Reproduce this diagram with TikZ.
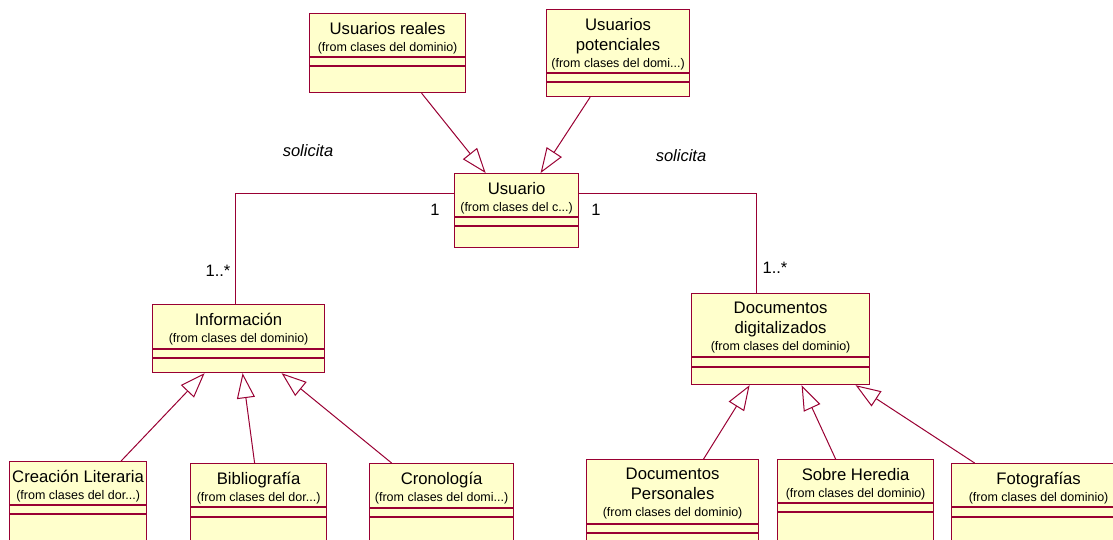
\documentclass[tikz,border=0pt]{standalone}
\usepackage{fontspec}
\setmainfont{Liberation Sans}
\usetikzlibrary{positioning,calc}
\usetikzlibrary{arrows.meta}

\definecolor{umlred}{RGB}{153,0,51}
\definecolor{umlfill}{RGB}{255,255,204}

\tikzset{
  classbox/.style={draw=umlred, fill=umlfill, line width=1.2pt, inner sep=0pt,
    anchor=north west},
  classtext/.style={inner sep=0pt, align=center, font=\fontsize{16.7}{20}\selectfont},
  compart/.style={draw=umlred, line width=1.2pt},
  assoc/.style={draw=umlred, line width=1pt},
  gener/.style={draw=umlred, line width=1pt, -{Triangle[open, length=25pt, width=18pt]}},
  rolelabel/.style={inner sep=0pt, font=\fontsize{16.5}{20}\selectfont},
}

\newcommand{\fromtxt}[1]{{\fontsize{12.5}{15}\selectfont #1}}

% name, left, top, right, bottom, compartment lines, text
\newcommand{\umlclass}[8]{%
  \node[classbox, minimum width={#4-#2}, minimum height={#5-#3}] (#1) at (#2,#3) {};
  \node[classtext, below=9pt of #1.north] (#1t) {#8};
  \draw[compart] (#2,#6) -- (#4,#6) (#2,#7) -- (#4,#7);
}

\begin{document}
\begin{tikzpicture}[x=1pt, y=-1pt]
   \path[use as bounding box] (0,0) rectangle (1113,540);
   \clip (0,0) rectangle (1113,540);

   % top
   \umlclass{usrr}{309}{13}{465}{92}{57}{66}{Usuarios reales\\[-3pt]\fromtxt{(from clases del dominio)}}
   \umlclass{usrp}{546}{9}{689}{96}{73}{82}{Usuarios\\potenciales\\[-3pt]\fromtxt{(from clases del domi...)}}
   \umlclass{usr}{454}{173}{578}{247}{217}{226}{Usuario\\[-3pt]\fromtxt{(from clases del c...)}}

   % middle
   \umlclass{info}{152}{304}{324}{372}{349}{358}{Información\\[-3pt]\fromtxt{(from clases del dominio)}}
   \umlclass{docd}{691}{293}{869}{384}{357}{367}{Documentos\\digitalizados\\[-3pt]\fromtxt{(from clases del dominio)}}

   % bottom
   \umlclass{crea}{9}{461}{146}{560}{505}{514}{Creación Literaria\\[-3pt]\fromtxt{(from clases del dor...)}}
   \umlclass{bibl}{190}{463}{326}{560}{507}{517}{Bibliografía\\[-3pt]\fromtxt{(from clases del dor...)}}
   \umlclass{cron}{369}{463}{513}{560}{508}{517}{Cronología\\[-3pt]\fromtxt{(from clases del domi...)}}
   \umlclass{docp}{586}{459}{758}{560}{524}{533}{Documentos\\Personales\\[-3pt]\fromtxt{(from clases del dominio)}}
   \umlclass{sobr}{777}{459}{933}{560}{503}{512}{Sobre Heredia\\[-3pt]\fromtxt{(from clases del dominio)}}
   \umlclass{foto}{951}{463}{1125}{560}{507}{517}{Fotografías\\[-3pt]\fromtxt{(from clases del dominio)}}

   % generalisations
   \draw[gener] ([xshift=34]usrr.south) -- ([xshift=-31]usr.north);
   \draw[gener] ([xshift=-28]usrp.south) -- ([xshift=24]usr.north);

   \draw[gener] ([xshift=43]crea.north) -- ([xshift=-34]info.south);
   \draw[gener] ([xshift=-4]bibl.north) -- ([xshift=4]info.south);
   \draw[gener] ([xshift=-50]cron.north) -- ([xshift=43]info.south);

   \draw[gener] ([xshift=31]docp.north) -- ([xshift=-31]docd.south);
   \draw[gener] ([xshift=-20]sobr.north) -- ([xshift=21]docd.south);
   \draw[gener] ([xshift=-64]foto.north) -- ([xshift=75]docd.south);

   % associations
   \draw[assoc] ([yshift=17]usr.west) -| ([xshift=-3]info.north);
   \draw[assoc] ([yshift=17]usr.east) -| ([xshift=-24]docd.north);

   \node[rolelabel, font=\fontsize{16.5}{20}\selectfont\itshape] (sol1) at (308,151) {solicita};
   \node[rolelabel, font=\fontsize{16.5}{20}\selectfont\itshape] (sol2) at (681,156) {solicita};
   \node[rolelabel] (m1) at (435,210) {1};
   \node[rolelabel] (m2) at (596,210) {1};
   \node[rolelabel] (m3) at (218,271) {1..*};
   \node[rolelabel] (m4) at (775,268) {1..*};
\end{tikzpicture}
\end{document}
